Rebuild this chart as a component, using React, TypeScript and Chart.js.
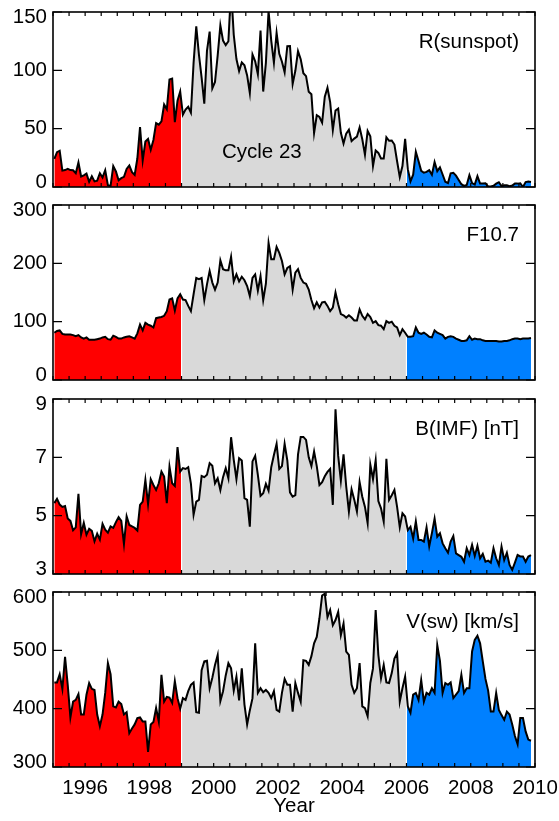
import React, { useEffect, useRef } from 'react';
import { Chart, registerables } from 'chart.js';

// ---------- data ----------
const YEARS = [1995, 1996, 1997, 1998, 1999, 2000, 2001, 2002, 2003, 2004, 2005, 2006, 2007, 2008, 2009];
const MONTHS_PER_YEAR = 12;
const LAST_YEAR_MONTHS = 11; // data runs through Nov 2009

const SUNSPOT = [
  24.2, 29.9, 31.1, 14.0, 14.5, 15.6, 14.5, 14.3, 11.8, 21.1, 9.0, 10.0,
  11.5, 4.4, 9.2, 4.8, 5.5, 11.8, 8.2, 14.4, 1.6, 0.9, 17.9, 13.3,
  5.7, 7.6, 8.7, 15.5, 18.5, 12.7, 10.4, 24.4, 51.3, 22.8, 39.0, 41.2,
  31.9, 40.3, 54.8, 53.4, 56.3, 70.7, 66.6, 92.2, 92.9, 55.5, 74.0, 81.9,
  62.0, 66.3, 68.8, 63.7, 106.4, 137.7, 113.5, 93.7, 71.5, 116.7, 133.2, 84.6,
  90.1, 112.9, 138.5, 125.5, 121.6, 124.9, 170.1, 130.5, 109.7, 99.4, 106.8, 104.4,
  95.6, 80.6, 113.5, 107.7, 96.6, 134.0, 81.8, 106.4, 150.7, 125.5, 106.5, 132.2,
  114.1, 107.4, 98.4, 120.7, 120.8, 88.3, 99.6, 116.4, 109.6, 97.5, 95.0, 81.6,
  79.5, 46.2, 61.5, 60.0, 55.2, 77.4, 85.0, 72.7, 48.8, 65.6, 67.3, 46.5,
  37.3, 45.8, 49.1, 39.3, 41.5, 43.2, 51.1, 40.9, 27.7, 48.0, 43.5, 17.9,
  31.3, 29.2, 24.5, 24.4, 42.6, 39.6, 39.9, 36.4, 22.1, 8.5, 18.0, 41.2,
  15.3, 4.9, 10.6, 30.2, 22.3, 13.9, 12.2, 12.9, 14.4, 10.5, 21.4, 13.6,
  16.8, 10.7, 4.5, 3.4, 11.7, 12.1, 9.7, 6.0, 2.4, 0.9, 1.7, 10.1,
  3.3, 2.1, 9.3, 2.9, 2.9, 3.1, 0.5, 0.5, 1.1, 2.9, 4.1, 0.8,
  1.5, 1.4, 0.7, 1.2, 2.9, 2.9, 3.2, 0.0, 4.2, 4.6, 4.2,
];

const F107 = [
  81, 84, 85, 79, 78, 78, 78, 77, 75, 77, 73, 71,
  73, 69, 69, 69, 70, 71, 73, 74, 70, 69, 76, 74,
  71, 71, 73, 74, 75, 73, 71, 80, 95, 85, 98, 95,
  93, 90, 106, 107, 108, 110, 118, 138, 140, 119, 140, 147,
  138, 137, 127, 118, 147, 175, 173, 175, 137, 164, 187, 167,
  155, 167, 205, 190, 188, 188, 211, 169, 181, 169, 177, 171,
  161, 144, 175, 181, 153, 178, 137, 165, 235, 207, 207, 228,
  218, 204, 181, 192, 195, 155, 184, 190, 175, 167, 165, 155,
  137, 123, 133, 124, 133, 134, 127, 118, 124, 150, 130, 113,
  111, 107, 111, 107, 102, 102, 121, 110, 104, 113, 108, 98,
  101, 94, 93, 87, 101, 98, 100, 93, 90, 77, 87, 81,
  74, 74, 75, 90, 81, 79, 81, 78, 74, 73, 85, 81,
  79, 77, 71, 74, 75, 74, 71, 69, 67, 67, 68, 75,
  69, 71, 70, 70, 68, 67, 67, 67, 67, 67, 66, 66,
  67, 67, 68, 70, 71, 71, 70, 71, 71, 71, 72,
];

const BIMF = [
  5.43, 5.58, 5.38, 5.30, 5.33, 4.90, 4.82, 4.50, 4.60, 5.75, 4.37, 4.75,
  4.35, 4.55, 4.48, 4.12, 4.38, 4.18, 4.72, 4.52, 4.42, 4.63, 4.58, 4.78,
  4.95, 4.82, 4.03, 4.98, 4.68, 4.63, 4.58, 4.49, 5.37, 5.48, 6.23, 5.40,
  6.25, 6.05, 5.88, 6.11, 6.51, 6.34, 5.43, 6.68, 6.11, 6.02, 7.35, 6.51,
  6.63, 6.60, 6.66, 6.10, 5.03, 5.48, 5.54, 6.36, 6.32, 6.40, 6.80, 6.71,
  6.11, 6.28, 5.88, 6.32, 6.63, 6.28, 7.69, 6.91, 6.25, 6.97, 6.89, 5.60,
  5.54, 4.62, 6.86, 7.05, 6.40, 5.68, 5.77, 6.09, 5.86, 6.66, 7.08, 7.46,
  6.60, 6.70, 7.46, 6.90, 5.80, 5.65, 5.70, 7.10, 7.70, 7.70, 7.60, 7.00,
  6.70, 7.20, 6.70, 6.05, 6.15, 6.35, 6.50, 6.60, 5.37, 8.65, 7.05, 6.20,
  7.10, 6.00, 5.14, 5.90, 5.55, 5.14, 6.15, 5.65, 5.30, 4.74, 6.75, 6.25,
  6.90, 5.50, 5.25, 4.80, 6.95, 5.54, 5.70, 5.88, 5.30, 4.60, 5.08, 4.97,
  4.50, 4.62, 4.22, 4.80, 4.17, 4.17, 4.11, 4.60, 3.95, 4.40, 4.90, 4.28,
  4.40, 4.05, 3.88, 3.73, 4.11, 4.30, 3.71, 3.65, 3.59, 3.42, 3.88, 3.65,
  4.00, 3.62, 3.97, 3.54, 3.69, 3.42, 3.46, 3.39, 3.88, 3.54, 3.31, 3.94,
  3.48, 3.73, 3.31, 3.14, 3.39, 3.65, 3.60, 3.60, 3.42, 3.60, 3.65,
];

const VSW = [
  445, 445, 459, 434, 489, 441, 385, 412, 415, 425, 390, 390,
  424, 444, 434, 432, 390, 370, 390, 427, 478, 459, 404, 402,
  412, 408, 390, 394, 358, 366, 373, 384, 385, 378, 378, 326,
  373, 377, 401, 378, 458, 412, 420, 419, 410, 447, 418, 400,
  418, 415, 430, 441, 445, 394, 393, 466, 481, 482, 435, 453,
  475, 492, 413, 430, 457, 478, 469, 431, 455, 414, 469, 407,
  373, 397, 418, 512, 427, 435, 428, 432, 427, 418, 430, 398,
  395, 427, 451, 441, 441, 395, 444, 427, 412, 483, 482, 475,
  490, 512, 523, 555, 594, 597, 557, 569, 543, 552, 566, 526,
  546, 498, 492, 441, 427, 435, 478, 404, 401, 387, 444, 469,
  569, 492, 452, 475, 445, 444, 461, 486, 495, 412, 435, 455,
  404, 393, 424, 427, 415, 449, 412, 427, 424, 435, 427, 509,
  482, 427, 444, 441, 445, 418, 424, 430, 458, 427, 435, 435,
  498, 518, 525, 512, 481, 451, 431, 395, 395, 427, 398, 389,
  381, 395, 390, 373, 353, 339, 384, 384, 361, 347, 345,
];

const PANEL_LABELS = ['R(sunspot)', 'F10.7', 'B(IMF) [nT]', 'V(sw) [km/s]'];
const Y_MIN = [0, 0, 3, 300];
const Y_MAX = [150, 300, 9, 600];
const Y_STEP = [50, 100, 2, 100];
const SERIES = [SUNSPOT, F107, BIMF, VSW];

const X_MIN = 1995;
const X_MAX = 2010;
const X_TICK_STEP = 0.5;

const REGION_START = [1995, 1999, 2006];
const REGION_END = [1999, 2006, 2010];
const REGION_COLORS = ['#ff0000', '#d9d9d9', '#0080ff'];

const CYCLE_NOTE = { text: 'Cycle 23', x: 2001.5, y: 25 };

// decimal-year time stamp of each monthly mean (mid-month)
const MONTH_TIMES: number[] = [];
YEARS.forEach((yr, yi) => {
  const n = yi === YEARS.length - 1 ? LAST_YEAR_MONTHS : MONTHS_PER_YEAR;
  for (let m = 0; m < n; m++) MONTH_TIMES.push(yr + (m + 0.5) / 12);
});

// ---------- plugins ----------
const FONT = "'Liberation Sans', Arial, Helvetica, sans-serif";
const FONT_SIZE = 20.5;

const regionClip = {
  id: 'regionClip',
  beforeDatasetDraw(chart: any, args: any) {
    const ds = chart.data.datasets[args.index];
    if (ds.regionFrom === undefined) return;
    const xs = chart.scales.x;
    const a = chart.chartArea;
    const l = xs.getPixelForValue(ds.regionFrom) + (ds.regionFrom > xs.min ? 0.6 : 0);
    const r = xs.getPixelForValue(ds.regionTo) - (ds.regionTo < xs.max ? 0.6 : 0);
    const ctx = chart.ctx;
    ctx.save();
    ctx.beginPath();
    ctx.rect(l, a.top, r - l, a.bottom - a.top);
    ctx.clip();
  },
  afterDatasetDraw(chart: any, args: any) {
    const ds = chart.data.datasets[args.index];
    if (ds.regionFrom === undefined) return;
    chart.ctx.restore();
  },
};

Chart.register(regionClip as any, ...registerables);

const frame = {
  id: 'frame',
  afterDatasetsDraw(chart: any) {
    const { ctx, chartArea: a } = chart;
    const xs = chart.scales.x;
    const ys = chart.scales.y;
    ctx.save();
    ctx.strokeStyle = '#000';
    ctx.lineWidth = 1.2;
    ctx.beginPath();
    xs.ticks.forEach((t: any) => {
      const px = xs.getPixelForValue(t.value);
      ctx.moveTo(px, a.bottom);
      ctx.lineTo(px, a.bottom - 4);
      ctx.moveTo(px, a.top);
      ctx.lineTo(px, a.top + 4);
    });
    ys.ticks.forEach((t: any) => {
      const py = ys.getPixelForValue(t.value);
      ctx.moveTo(a.left, py);
      ctx.lineTo(a.left + 9, py);
      ctx.moveTo(a.right, py);
      ctx.lineTo(a.right - 9, py);
    });
    ctx.stroke();
    ctx.lineWidth = 1.6;
    ctx.strokeRect(a.left, a.top, a.right - a.left, a.bottom - a.top);
    ctx.restore();
  },
};

const panelText = {
  id: 'panelText',
  afterDatasetsDraw(chart: any, _args: any, opts: any) {
    const { ctx, chartArea: a } = chart;
    ctx.save();
    ctx.font = `${FONT_SIZE}px ${FONT}`;
    ctx.fillStyle = '#000';
    ctx.textBaseline = 'alphabetic';
    ctx.textAlign = 'right';
    ctx.fillText(opts.text, a.right - 16, a.top + 36);
    if (opts.note) {
      ctx.textAlign = 'center';
      ctx.fillText(
        opts.note.text,
        chart.scales.x.getPixelForValue(opts.note.x),
        chart.scales.y.getPixelForValue(opts.note.y)
      );
    }
    ctx.restore();
  },
};

// ---------- layout ----------
const W = 559;
const CANVAS_TOPS = [0, 193, 387, 580];
const CANVAS_HEIGHTS = [193, 194, 193, 241];
const PAD_TOP = [12, 12, 12, 12];
const PAD_BOTTOM = [6, 7, 6, 0];
const X_AXIS_H = [0, 0, 0, 54];

function Panel({ index }: { index: number }) {
  const ref = useRef<HTMLCanvasElement | null>(null);
  useEffect(() => {
    if (!ref.current) return;
    const isLast = index === 3;
    const values = SERIES[index];
    const pts = MONTH_TIMES.map((t, i) => ({ x: t, y: values[i] }));
    const nY = Math.round((Y_MAX[index] - Y_MIN[index]) / Y_STEP[index]) + 1;

    const datasets: any[] = [
      {
        data: pts,
        borderColor: '#000',
        borderWidth: 2,
        fill: false,
        pointRadius: 0,
        tension: 0,
      },
    ];
    REGION_START.forEach((s, r) => {
      datasets.push({
        data: pts,
        borderWidth: 0,
        borderColor: 'rgba(0,0,0,0)',
        backgroundColor: REGION_COLORS[r],
        fill: 'start',
        pointRadius: 0,
        tension: 0,
        regionFrom: s,
        regionTo: REGION_END[r],
      });
    });

    const chart = new Chart(ref.current, {
      type: 'line',
      data: { datasets },
      options: {
        animation: false,
        responsive: false,
        maintainAspectRatio: false,
        devicePixelRatio: 1,
        events: [],
        layout: {
          autoPadding: false,
          padding: { left: 0, right: 24, top: PAD_TOP[index], bottom: PAD_BOTTOM[index] },
        },
        plugins: {
          legend: { display: false },
          tooltip: { enabled: false },
          panelText: {
            text: PANEL_LABELS[index],
            note: index === 0 ? CYCLE_NOTE : null,
          },
        } as any,
        scales: {
          x: {
            type: 'linear',
            min: X_MIN,
            max: X_MAX,
            grid: { display: false, drawTicks: false, tickLength: 0 },
            border: { display: false },
            ticks: {
              display: isLast,
              stepSize: X_TICK_STEP,
              maxTicksLimit: 100,
              autoSkip: false,
              maxRotation: 0,
              minRotation: 0,
              padding: 9,
              color: '#000',
              font: { family: FONT, size: FONT_SIZE },
              callback: (v: any) => (Math.round(Number(v) * 2) % 4 === 0 ? String(v) : ''),
            },
            title: {
              display: isLast,
              text: 'Year',
              color: '#000',
              font: { family: FONT, size: FONT_SIZE },
              padding: { top: 0, bottom: 2 },
            },
            afterFit: (s: any) => {
              s.height = X_AXIS_H[index];
              s.paddingLeft = 0;
              s.paddingRight = 0;
              s.paddingTop = 0;
              s.paddingBottom = 0;
            },
          },
          y: {
            type: 'linear',
            min: Y_MIN[index],
            max: Y_MAX[index],
            grid: { display: false, drawTicks: false, tickLength: 0 },
            border: { display: false },
            ticks: {
              stepSize: Y_STEP[index],
              padding: 6,
              color: '#000',
              font: (c: any) => ({
                family: FONT,
                size: FONT_SIZE,
                lineHeight: c.index === 0 || c.index === nY - 1 ? 10 / FONT_SIZE : 1.2,
              }),
              callback: (v: any, i: number, ticks: any[]) =>
                i === 0 ? [String(v), ''] : i === ticks.length - 1 ? ['', String(v)] : String(v),
            },
            afterFit: (s: any) => {
              s.width = 53;
              s.paddingLeft = 0;
              s.paddingRight = 0;
              s.paddingTop = 0;
              s.paddingBottom = 0;
            },
          },
        },
      } as any,
      plugins: [frame, panelText] as any,
    });
    return () => chart.destroy();
  }, [index]);

  return (
    <canvas
      ref={ref}
      width={W}
      height={CANVAS_HEIGHTS[index]}
      style={{
        position: 'absolute',
        left: 0,
        top: CANVAS_TOPS[index],
        width: W,
        height: CANVAS_HEIGHTS[index],
      }}
    />
  );
}

export default function App() {
  return (
    <div
      style={{
        position: 'absolute',
        left: 0,
        top: 0,
        width: W,
        height: 821,
        background: '#fff',
        overflow: 'hidden',
      }}
    >
      {[0, 1, 2, 3].map((i) => (
        <Panel key={i} index={i} />
      ))}
    </div>
  );
}
